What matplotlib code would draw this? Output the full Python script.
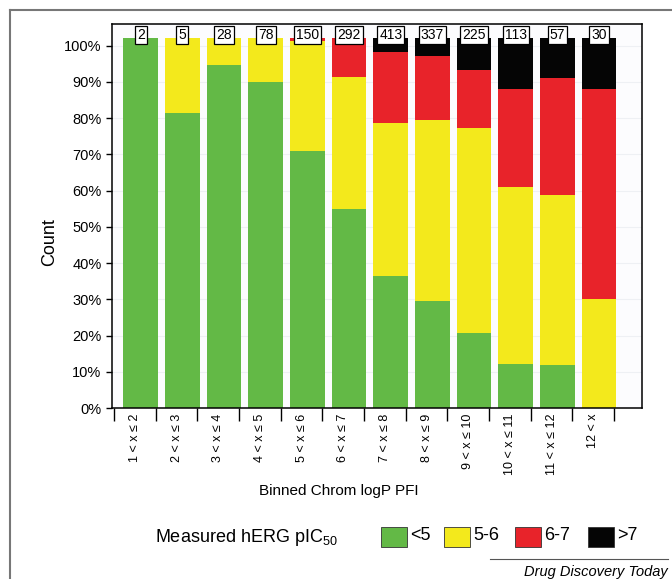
import numpy as np
import matplotlib
matplotlib.use("Agg")
import matplotlib.pyplot as plt
from matplotlib.patches import Rectangle
from matplotlib.lines import Line2D

plt.rcParams['font.family'] = ['Liberation Sans', 'DejaVu Sans']
plt.rcParams['mathtext.fontset'] = 'custom'
plt.rcParams['mathtext.rm'] = 'Liberation Sans'
plt.rcParams['mathtext.it'] = 'Liberation Sans'

bins = ["1 < x \u2264 2", "2 < x \u2264 3", "3 < x \u2264 4", "4 < x \u2264 5",
        "5 < x \u2264 6", "6 < x \u2264 7", "7 < x \u2264 8", "8 < x \u2264 9",
        "9 < x \u2264 10", "10 < x \u2264 11", "11 < x \u2264 12", "12 < x"]
counts = [2, 5, 28, 78, 150, 292, 413, 337, 225, 113, 57, 30]

# segment heights in % (stacks reach ~102%)
lt5 = [102, 81.4, 94.7, 90.1, 71.0, 55.0, 36.3, 29.5, 20.6, 12.1, 11.9, 0]
p5_6 = [0, 20.6, 7.3, 11.9, 30.4, 36.5, 42.5, 50.0, 56.7, 48.9, 46.8, 30.1]
p6_7 = [0, 0, 0, 0, 0.6, 10.5, 19.5, 17.6, 15.9, 27.1, 32.4, 57.9]
gt7 = [0, 0, 0, 0, 0, 0, 3.7, 4.9, 8.8, 13.9, 10.9, 14.0]

series = [lt5, p5_6, p6_7, gt7]
names = ["<5", "5-6", "6-7", ">7"]
colors = ["#63b946", "#f3e91c", "#e8232a", "#050505"]

fig = plt.figure(figsize=(6.72, 5.79), dpi=100)
ax = fig.add_axes([112 / 672, 1 - 408 / 579, 530 / 672, 384 / 579])
ax.set_facecolor("#fcfcfe")

x = np.arange(len(bins))
xb = x + 0.14  # bars sit a little right of the tick labels in the original
bottom = np.zeros(len(bins))
for vals, c in zip(series, colors):
    ax.bar(xb, vals, width=0.83, bottom=bottom, color=c, edgecolor="none", zorder=2)
    bottom += np.array(vals)

for xi, n, top in zip(xb, counts, bottom):
    ax.text(xi, top + 1.0, str(n), ha="center", va="center", fontsize=10, zorder=4,
            bbox=dict(boxstyle="square,pad=0.15", fc="white", ec="black", lw=0.9))

ax.set_xlim(-0.55, 12.17)
ax.set_ylim(0, 106)
ax.set_yticks(np.arange(0, 101, 10))
ax.set_yticklabels([f"{v}%" for v in range(0, 101, 10)], fontsize=10.5)
ax.yaxis.grid(True, color="#eef0f4", lw=0.8, zorder=0)
ax.set_axisbelow(True)

ax.set_xticks(x)
ax.set_xticklabels(bins, rotation=90, fontsize=9)
ax.tick_params(axis="x", length=0, pad=4)
ax.set_xticks(np.arange(-0.5, 12.0, 1.0), minor=True)
ax.tick_params(axis="x", which="minor", length=9, width=1)
ax.tick_params(axis="y", length=4, width=1)

for s in ax.spines.values():
    s.set_linewidth(1.1)

ax.set_ylabel("Count", fontsize=13)
ax.yaxis.set_label_coords(-0.102, 0.432)
fig.text(339 / 672, 1 - 491 / 579, "Binned Chrom logP PFI", ha="center", va="center", fontsize=11)

# legend row
fig.text(155 / 672, 1 - 537 / 579, "Measured hERG pIC$_{50}$", ha="left", va="center", fontsize=13)
leg_x = [381, 444, 515, 588]
for lx, c, name in zip(leg_x, colors, names):
    fig.patches.append(Rectangle((lx / 672, 1 - 547 / 579), 26 / 672, 20 / 579,
                                 transform=fig.transFigure, fc=c, ec="#333333", lw=0.6))
    fig.text((lx + 29) / 672, 1 - 536 / 579, name, ha="left", va="center", fontsize=13)

# outer frame and journal tag
fig.lines.append(Line2D([10 / 672, 1], [1 - 10 / 579] * 2, transform=fig.transFigure,
                        color="#777777", lw=1.5))
fig.lines.append(Line2D([10 / 672] * 2, [0, 1 - 10 / 579], transform=fig.transFigure,
                        color="#777777", lw=1.5))
fig.lines.append(Line2D([490 / 672, 668 / 672], [1 - 559 / 579] * 2, transform=fig.transFigure,
                        color="#555555", lw=0.8))
fig.text(668 / 672, 1 - 572 / 579, "Drug Discovery Today", ha="right", va="center",
         fontsize=10.5, style="italic")

fig.savefig("out.png", dpi=100)
